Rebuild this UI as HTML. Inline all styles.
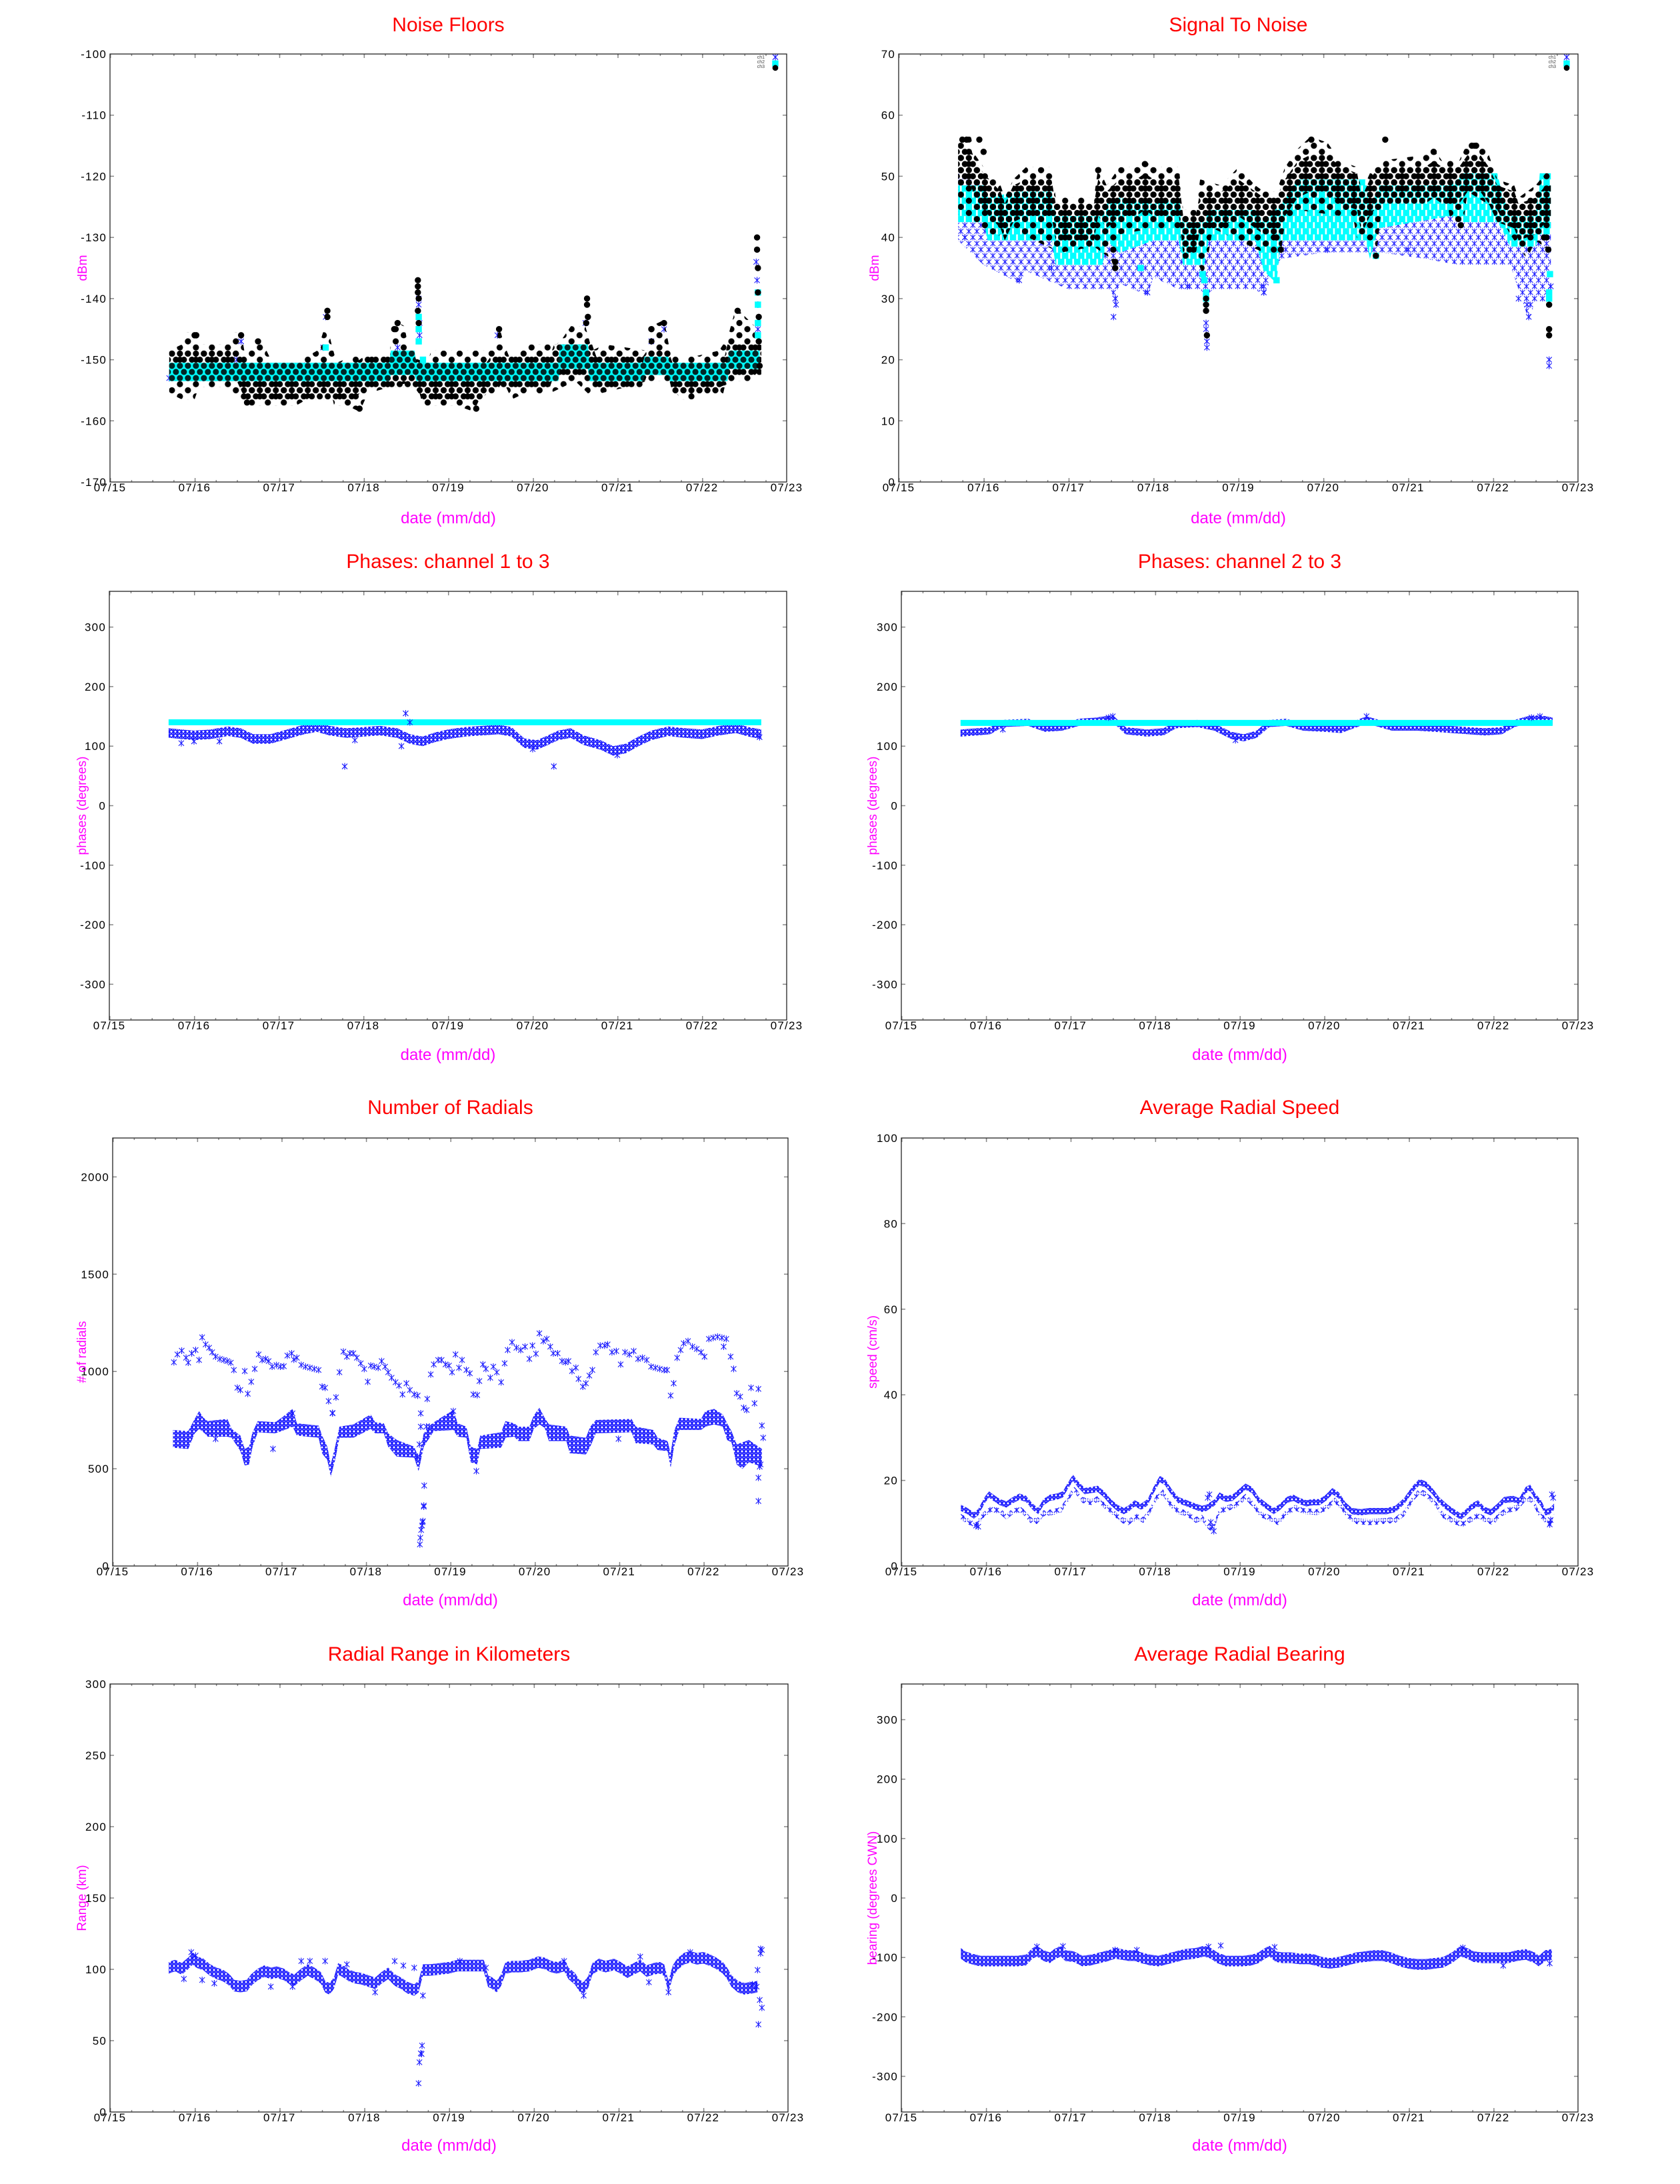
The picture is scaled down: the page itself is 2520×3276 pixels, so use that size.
<!DOCTYPE html>
<html><head><meta charset="utf-8">
<style>
html,body{margin:0;padding:0;background:#fff;overflow:hidden}
svg{display:block}
text{font-family:"Liberation Sans",Arial,sans-serif}
.ti{font-size:30px;fill:#ff0000;text-anchor:middle}
.xl{font-size:24px;fill:#ff00ff;text-anchor:middle}
.yl{font-size:19px;fill:#ff00ff;text-anchor:middle}
.tk{font-size:17px;fill:#000;letter-spacing:1.2px}
.tx{text-anchor:middle}
.ty{text-anchor:end}
.fr{fill:none;stroke:#222;stroke-width:1.3}
.yt{stroke:#888;stroke-width:1.5;fill:none}
.lg{font-size:7px;fill:#444;text-anchor:end}
.a1{fill:none;stroke:none;marker-start:url(#mA1);marker-mid:url(#mA1);marker-end:url(#mA1)}
.c1{fill:none;stroke:none;marker-start:url(#mC1);marker-mid:url(#mC1);marker-end:url(#mC1)}
.s1{fill:none;stroke:none;marker-start:url(#mS1);marker-mid:url(#mS1);marker-end:url(#mS1)}
.a3{fill:none;stroke:none;marker-start:url(#mA3);marker-mid:url(#mA3);marker-end:url(#mA3)}
.az{fill:none;stroke:none;marker-start:url(#mAz);marker-mid:url(#mAz);marker-end:url(#mAz)}
</style></head>
<body>
<svg xmlns="http://www.w3.org/2000/svg" width="2520" height="3276" viewBox="0 0 2520 3276">
<rect width="2520" height="3276" fill="#fff"/>
<defs>
<marker id="mA1" viewBox="-6 -6 12 12" preserveAspectRatio="none" markerWidth="0.094488" markerHeight="1.3084" refX="0" refY="0" markerUnits="userSpaceOnUse" overflow="visible" orient="0"><path d="M-4,-4L4,4M-4,4L4,-4M0,-5V5" stroke="#1a1aff" stroke-width="1.1" fill="none"/></marker>
<marker id="mC1" viewBox="-6 -6 12 12" preserveAspectRatio="none" markerWidth="0.094488" markerHeight="1.3084" refX="0" refY="0" markerUnits="userSpaceOnUse" overflow="visible" orient="0"><circle r="4.7" fill="#000"/></marker>
<marker id="mS1" viewBox="-6 -6 12 12" preserveAspectRatio="none" markerWidth="0.094488" markerHeight="1.3084" refX="0" refY="0" markerUnits="userSpaceOnUse" overflow="visible" orient="0"><rect x="-4.7" y="-4.7" width="9.4" height="9.4" fill="#00ffff"/></marker>
<marker id="mA3" viewBox="-6 -6 12 12" preserveAspectRatio="none" markerWidth="0.094488" markerHeight="13.437" refX="0" refY="0" markerUnits="userSpaceOnUse" overflow="visible" orient="0"><path d="M-4,-4L4,4M-4,4L4,-4M0,-5V5" stroke="#1a1aff" stroke-width="1.1" fill="none"/></marker>
<marker id="mAz" viewBox="-6 -6 12 12" preserveAspectRatio="none" markerWidth="18.408" markerHeight="36" refX="0" refY="0" markerUnits="userSpaceOnUse" overflow="visible" orient="0"><path d="M-4,-4L4,4M-4,4L4,-4M0,-5V5" stroke="#1a1aff" stroke-width="1.1" fill="none"/></marker>

<pattern id="pBk" patternUnits="userSpaceOnUse" x="0" y="0.5" width="0.094488" height="2" viewBox="0 0 12 18.343" preserveAspectRatio="none"><circle cx="6" cy="4.586" r="4.6"/><circle cx="0" cy="13.757" r="4.6"/><circle cx="12" cy="13.757" r="4.6"/></pattern>
<pattern id="pBs" patternUnits="userSpaceOnUse" x="0" y="0.5" width="0.188976" height="2" viewBox="0 0 24 18.343" preserveAspectRatio="none"><circle cx="6" cy="4.586" r="4.6"/><circle cx="18" cy="13.757" r="4.6"/></pattern>
<pattern id="pCy" patternUnits="userSpaceOnUse" x="0" y="0.5" width="0.094488" height="2" viewBox="0 0 12 18.343" preserveAspectRatio="none"><g fill="#00ffff"><rect x="1.3" y="-0.014" width="9.4" height="9.2"/><rect x="-4.7" y="9.157" width="9.4" height="9.2"/><rect x="7.3" y="9.157" width="9.4" height="9.2"/></g></pattern>
<pattern id="pAs1" patternUnits="userSpaceOnUse" x="0" y="0.5" width="0.094488" height="2" viewBox="0 0 12 18.343" preserveAspectRatio="none"><path d="M2.3,0.9L9.7,8.3M2.3,8.3L9.7,0.9M6,0.2V9M-3.7,10.1L3.7,17.5M-3.7,17.5L3.7,10.1M0,9.4V18.2M8.3,10.1L15.7,17.5M8.3,17.5L15.7,10.1M12,9.4V18.2" stroke="#1a1aff" stroke-width="1.1" fill="none"/></pattern>
<pattern id="pAd3" patternUnits="userSpaceOnUse" x="0" y="0" width="0.047244" height="6.7185" viewBox="0 0 6 6" preserveAspectRatio="none"><path d="M0,0L6,6M0,6L6,0M3,0V6" stroke="#1a1aff" stroke-width="1.6" fill="none"/></pattern>
<pattern id="pAdz" patternUnits="userSpaceOnUse" x="0" y="0" width="9.204" height="18" viewBox="0 0 6 6" preserveAspectRatio="none"><path d="M0,0L6,6M0,6L6,0M3,0V6" stroke="#1a1aff" stroke-width="1.6" fill="none"/></pattern>
<pattern id="pAsz" patternUnits="userSpaceOnUse" x="0" y="0" width="15.34" height="30" viewBox="0 0 10 10" preserveAspectRatio="none"><path d="M1,1L9,9M1,9L9,1M5,0.5V9.5" stroke="#1a1aff" stroke-width="1.25" fill="none"/></pattern>
<pattern id="k32" patternUnits="objectBoundingBox" x="0" y="0" width="0.03125" height="1" viewBox="0 0 32 1" preserveAspectRatio="none"><rect width="1.5" height="1" fill="#888"/></pattern>
<pattern id="k8" patternUnits="objectBoundingBox" x="0" y="0" width="0.125" height="1" viewBox="0 0 127 1" preserveAspectRatio="none"><rect width="1.5" height="1" fill="#888"/></pattern>
</defs>

<!-- ================= P1 Noise Floors ================= -->
<text class="ti" x="672.5" y="47">Noise Floors</text>
<g transform="matrix(126.875 0 0 -9.1714 -1738.125 -836.14)">
<polyline class="a1" points="18.65,-140 18.65,-141 18.66,-144 18.66,-146 18.40,-148 17.52,-148 17.55,-143 19.58,-146 20.62,-144 22.64,-134 22.65,-137 22.66,-141 22.66,-145 21.55,-145 21.40,-147 16.55,-147 16.50,-150 15.70,-153 16.10,-153 17.30,-151 18.45,-150"/>
<polygon fill="url(#pBs)" points="15.70,-148.5 15.85,-147.5 15.90,-145.5 16.03,-145.5 16.08,-147.5 16.40,-147.5 16.45,-145.5 16.55,-145.5 16.60,-149.5 16.75,-146.5 16.85,-148.5 16.92,-150.5 17.20,-150.5 17.45,-148.5 17.52,-145.5 17.57,-144.5 17.62,-147.5 17.68,-150.5 17.85,-149.5 18.30,-149.5 18.36,-143.5 18.48,-144.5 18.55,-149.5 18.75,-150.5 18.80,-148.5 19.55,-148.5 19.60,-144.5 19.66,-147.5 19.72,-149.5 19.92,-147.5 20.28,-147.5 20.35,-146.5 20.45,-144.5 20.62,-144.5 20.70,-148.5 20.85,-147.5 21.35,-148.5 21.40,-144.5 21.55,-143.5 21.62,-148.5 21.70,-149.5 21.90,-149.5 22.20,-148.5 22.30,-146.5 22.40,-141.5 22.55,-143.5 22.62,-144.5 22.70,-146.5 22.70,-151.5 22.55,-153.5 22.40,-153.5 22.20,-154.5 21.90,-156.5 21.75,-156.5 21.60,-153.5 21.35,-153.5 21.10,-154.5 20.80,-155.5 20.65,-155.5 20.50,-153.5 20.20,-155.5 19.90,-155.5 19.75,-156.5 19.65,-153.5 19.55,-155.5 19.40,-155.5 19.30,-158.5 19.10,-157.5 18.70,-157.5 18.62,-153.5 18.30,-154.5 18.05,-155.5 17.95,-158.5 17.80,-157.5 17.65,-157.5 17.60,-154.5 17.45,-155.5 17.20,-157.5 16.60,-157.5 16.40,-154.5 16.05,-154.5 16.00,-156.5 15.85,-156.5 15.70,-155.5"/>
<polygon fill="url(#pBk)" points="15.70,-148.5 16.50,-148.5 16.60,-150.5 17.90,-150.5 18.00,-149.5 18.60,-149.5 18.70,-151.5 19.40,-151.5 19.50,-149.5 20.20,-149.5 20.25,-147.5 20.70,-147.5 20.75,-149.5 21.30,-149.5 21.35,-148.5 21.60,-148.5 21.65,-150.5 22.25,-150.5 22.30,-147.5 22.70,-147.5 22.70,-152.5 22.30,-152.5 22.25,-155.5 21.65,-155.5 21.60,-152.5 21.35,-152.5 21.30,-154.5 20.75,-154.5 20.70,-152.5 20.25,-152.5 20.20,-154.5 19.50,-154.5 19.40,-156.5 18.70,-156.5 18.60,-154.5 18.00,-154.5 17.90,-156.5 16.60,-156.5 16.50,-153.5 15.70,-153.5"/>
<polygon fill="#00ffff" points="15.70,-150.5 18.30,-150.5 18.32,-148.5 18.60,-148.5 18.62,-150.5 20.30,-150.5 20.32,-147.5 20.65,-147.5 20.67,-150.5 21.30,-150.5 21.32,-149.5 21.60,-149.5 21.62,-150.5 22.30,-150.5 22.32,-148.5 22.68,-148.5 22.68,-151.5 22.32,-151.5 22.30,-153.5 21.62,-153.5 21.60,-152.5 21.32,-152.5 21.30,-153.5 20.67,-153.5 20.65,-151.5 20.32,-151.5 20.30,-153.5 18.62,-153.5 18.60,-152.5 18.32,-152.5 18.30,-153.5 15.70,-153.5"/>
<polyline class="s1" points="18.65,-143 18.65,-145 18.65,-147 22.66,-139 22.66,-141 22.66,-144 22.66,-146 17.55,-148 20.60,-148 18.70,-150"/>
<polygon fill="url(#pBk)" opacity="0.85" points="15.70,-150.5 18.30,-150.5 18.32,-148.5 18.60,-148.5 18.62,-150.5 20.30,-150.5 20.32,-147.5 20.65,-147.5 20.67,-150.5 21.30,-150.5 21.32,-149.5 21.60,-149.5 21.62,-150.5 22.30,-150.5 22.32,-148.5 22.68,-148.5 22.68,-151.5 22.32,-151.5 22.30,-153.5 21.62,-153.5 21.60,-152.5 21.32,-152.5 21.30,-153.5 20.67,-153.5 20.65,-151.5 20.32,-151.5 20.30,-153.5 18.62,-153.5 18.60,-152.5 18.32,-152.5 18.30,-153.5 15.70,-153.5"/>
<polyline class="c1" points="17.57,-142 17.57,-143 18.64,-137 18.64,-138 18.64,-139 18.65,-140 18.64,-142 18.65,-144 20.64,-140 20.64,-141 20.65,-143 20.63,-144 22.65,-130 22.65,-132 22.66,-135 22.66,-139 22.67,-143 22.67,-147 22.42,-142 19.60,-145 21.40,-145 16.00,-146 16.02,-146 16.55,-146 18.40,-144 18.36,-145 17.95,-158 19.33,-158 16.75,-147 16.62,-157 21.55,-144 22.68,-151"/>
</g>
<text class="lg" x="1147" y="88">ch1</text><text class="lg" x="1147" y="95">ch2</text><text class="lg" x="1147" y="102">ch3</text>
<path d="M1159,81.7L1167,89.7M1159,89.7L1167,81.7M1163,80.7V90.7" stroke="#1a1aff" stroke-width="1.1" fill="none"/>
<rect x="1158.3" y="90.6" width="9.4" height="9.4" fill="#00ffff"/>
<circle cx="1163" cy="101.8" r="4.4" fill="#000"/>
<rect x="165" y="81" width="1015" height="3" fill="url(#k32)"/><rect x="165" y="81" width="1015" height="6" fill="url(#k8)"/>
<rect x="165" y="720" width="1015" height="3" fill="url(#k32)"/><rect x="165" y="717" width="1015" height="6" fill="url(#k8)"/>
<path class="yt" d="M165,172.7h6M1180,172.7h-6M165,264.4h6M1180,264.4h-6M165,356.1h6M1180,356.1h-6M165,447.9h6M1180,447.9h-6M165,539.6h6M1180,539.6h-6M165,631.3h6M1180,631.3h-6"/>
<rect class="fr" x="165" y="81" width="1015" height="642"/>
<g class="tk ty"><text x="160" y="87">-100</text><text x="160" y="178.7">-110</text><text x="160" y="270.4">-120</text><text x="160" y="362.1">-130</text><text x="160" y="453.9">-140</text><text x="160" y="545.6">-150</text><text x="160" y="637.3">-160</text><text x="160" y="729">-170</text></g>
<g class="tk tx"><text x="165" y="737">07/15</text><text x="291.9" y="737">07/16</text><text x="418.8" y="737">07/17</text><text x="545.6" y="737">07/18</text><text x="672.5" y="737">07/19</text><text x="799.4" y="737">07/20</text><text x="926.3" y="737">07/21</text><text x="1053.1" y="737">07/22</text><text x="1180" y="737">07/23</text></g>
<text class="xl" x="672.5" y="785">date (mm/dd)</text>
<text class="yl" transform="translate(130,402) rotate(-90)">dBm</text>

<!-- ================= P2 Signal To Noise ================= -->
<text class="ti" x="1857.5" y="47">Signal To Noise</text>
<g transform="matrix(127.375 0 0 -9.1714 -562.625 723)">
<polygon fill="url(#pAs1)" points="15.70,50.5 16.0,48.5 16.05,45.5 16.5,44.5 17.0,42.5 17.6,42.5 18.0,41.5 18.3,41.5 18.55,39.5 18.65,40.5 19.2,39.5 19.5,45.5 20.0,48.5 20.5,44.5 20.7,45.5 21.2,44.5 21.6,44.5 22.2,42.5 22.5,40.5 22.68,42.5 22.68,29.5 22.5,29.5 22.42,26.5 22.3,31.5 22.2,35.5 21.6,35.5 21.2,36.5 20.7,37.5 20.0,37.5 19.5,36.5 19.3,30.5 19.2,31.5 18.7,31.5 18.62,30.5 18.55,31.5 18.3,31.5 18.0,33.5 17.93,30.5 17.6,32.5 17.55,28.5 17.5,31.5 17.0,31.5 16.5,34.5 16.42,32.5 16.0,35.5 15.7,39.5"/>
<polyline class="a1" points="18.62,26 18.62,25 18.63,23 18.63,22 17.53,27 17.55,30 17.56,29 17.93,31 22.42,27 22.4,29 22.66,20 22.66,19 22.68,32 16.42,33 19.3,31 19.3,32 15.78,40 20.05,38 21.0,38 16.8,35 18.4,32 22.3,30"/>
<polygon fill="url(#pCy)" points="15.70,48.5 16.0,48.5 16.05,46.5 16.4,47.5 16.8,47.5 16.85,43.5 17.4,43.5 17.45,45.5 17.6,46.5 18.0,45.5 18.3,46.5 18.35,42.5 18.6,42.5 18.65,44.5 19.2,44.5 19.3,42.5 19.5,45.5 19.7,49.5 20.5,49.5 20.55,44.5 20.65,48.5 21.5,48.5 21.65,50.5 22.05,50.5 22.1,47.5 22.2,43.5 22.5,43.5 22.55,50.5 22.68,50.5 22.68,40.5 22.55,40.5 22.5,38.5 22.2,38.5 22.1,41.5 22.05,42.5 21.65,42.5 21.5,43.5 20.65,41.5 20.55,36.5 20.5,39.5 19.7,39.5 19.5,39.5 19.45,32.5 19.3,34.5 19.2,39.5 18.65,39.5 18.6,35.5 18.35,35.5 18.3,39.5 18.0,39.5 17.6,37.5 17.45,39.5 17.4,35.5 16.85,35.5 16.8,39.5 16.4,39.5 16.05,39.5 16.0,42.5 15.7,42.5"/>
<polyline class="s1" points="18.62,31 18.62,30 18.6,33 18.58,34 19.45,33 22.67,34 22.66,31 22.66,30 17.85,35 20.62,37"/>
<polygon fill="url(#pBs)" points="15.70,56.5 15.85,56.5 15.9,53.5 16.0,51.5 16.2,48.5 16.25,46.5 16.35,49.5 16.5,51.5 16.8,51.5 16.85,46.5 17.3,46.5 17.35,51.5 17.45,48.5 17.6,51.5 17.8,51.5 17.9,52.5 18.0,51.5 18.3,51.5 18.35,44.5 18.5,44.5 18.55,49.5 18.8,48.5 19.0,51.5 19.2,48.5 19.3,47.5 19.45,47.5 19.55,51.5 19.7,54.5 19.85,56.5 20.05,55.5 20.2,52.5 20.4,51.5 20.45,47.5 20.55,50.5 20.65,52.5 21.2,53.5 21.3,54.5 21.4,52.5 21.6,52.5 21.7,55.5 21.85,55.5 21.95,53.5 22.05,49.5 22.25,48.5 22.3,46.5 22.5,48.5 22.62,50.5 22.68,50.5 22.68,37.5 22.6,38.5 22.5,39.5 22.4,36.5 22.3,38.5 22.2,40.5 22.05,44.5 21.7,47.5 21.65,42.5 21.5,42.5 21.45,46.5 20.7,46.5 20.62,36.5 20.55,39.5 20.4,39.5 20.35,43.5 20.2,43.5 19.7,44.5 19.55,42.5 19.5,37.5 19.3,37.5 19.0,39.5 18.7,41.5 18.6,33.5 18.5,36.5 18.35,36.5 18.3,41.5 18.0,41.5 17.6,40.5 17.55,34.5 17.5,36.5 17.3,38.5 16.9,37.5 16.6,39.5 16.3,41.5 16.1,39.5 16.0,41.5 15.7,44.5"/>
<polygon fill="url(#pBk)" points="15.70,54.5 15.85,54.5 15.9,52.5 16.0,50.5 16.2,47.5 16.25,45.5 16.35,48.5 16.5,49.5 16.8,49.5 16.85,45.5 17.3,45.5 17.35,49.5 17.45,47.5 17.6,49.5 17.8,49.5 17.9,50.5 18.0,49.5 18.3,49.5 18.35,43.5 18.5,43.5 18.55,47.5 18.8,47.5 19.0,49.5 19.2,47.5 19.3,46.5 19.45,46.5 19.55,49.5 19.7,52.5 19.85,53.5 20.05,53.5 20.2,51.5 20.4,50.5 20.45,46.5 20.55,49.5 20.65,51.5 21.2,51.5 21.3,52.5 21.4,51.5 21.6,51.5 21.7,53.5 21.85,53.5 21.95,51.5 22.05,48.5 22.25,47.5 22.3,45.5 22.5,46.5 22.62,48.5 22.68,48.5 22.68,42.5 22.62,42.5 22.5,40.5 22.3,39.5 22.25,41.5 22.05,42.5 21.95,45.5 21.85,47.5 21.7,47.5 21.6,45.5 21.4,45.5 21.3,46.5 21.2,45.5 20.65,45.5 20.55,43.5 20.45,40.5 20.4,44.5 20.2,45.5 20.05,47.5 19.85,47.5 19.7,46.5 19.55,43.5 19.45,40.5 19.3,40.5 19.2,41.5 19.0,43.5 18.8,41.5 18.55,41.5 18.5,37.5 18.35,37.5 18.3,43.5 18.0,43.5 17.9,44.5 17.8,43.5 17.6,43.5 17.45,41.5 17.35,43.5 17.3,39.5 16.85,39.5 16.8,43.5 16.5,43.5 16.35,42.5 16.25,39.5 16.2,41.5 16.0,44.5 15.9,46.5 15.85,48.5 15.70,48.5"/>
<polyline class="c1" points="18.62,30 18.62,29 18.62,28 18.63,24 17.55,35 17.55,36 22.66,29 22.66,25 22.66,24 22.65,38 22.6,40 20.62,37 21.62,42 19.5,38 19.45,40 15.75,56 15.8,56 15.95,56 19.86,56 20.73,56 21.75,55 21.8,55 16.0,54 21.3,54 17.35,51 17.9,52"/>
</g>
<text class="lg" x="2334" y="88">ch1</text><text class="lg" x="2334" y="95">ch2</text><text class="lg" x="2334" y="102">ch3</text>
<path d="M2346,81.7L2354,89.7M2346,89.7L2354,81.7M2350,80.7V90.7" stroke="#1a1aff" stroke-width="1.1" fill="none"/>
<rect x="2345.3" y="90.6" width="9.4" height="9.4" fill="#00ffff"/>
<circle cx="2350" cy="101.8" r="4.4" fill="#000"/>
<rect x="1348" y="81" width="1019" height="3" fill="url(#k32)"/><rect x="1348" y="81" width="1019" height="6" fill="url(#k8)"/>
<rect x="1348" y="720" width="1019" height="3" fill="url(#k32)"/><rect x="1348" y="717" width="1019" height="6" fill="url(#k8)"/>
<path class="yt" d="M1348,172.7h6M2367,172.7h-6M1348,264.4h6M2367,264.4h-6M1348,356.1h6M2367,356.1h-6M1348,447.9h6M2367,447.9h-6M1348,539.6h6M2367,539.6h-6M1348,631.3h6M2367,631.3h-6"/>
<rect class="fr" x="1348" y="81" width="1019" height="642"/>
<g class="tk ty"><text x="1343" y="87">70</text><text x="1343" y="178.7">60</text><text x="1343" y="270.4">50</text><text x="1343" y="362.1">40</text><text x="1343" y="453.9">30</text><text x="1343" y="545.6">20</text><text x="1343" y="637.3">10</text><text x="1343" y="729">0</text></g>
<g class="tk tx"><text x="1348" y="737">07/15</text><text x="1475.4" y="737">07/16</text><text x="1602.8" y="737">07/17</text><text x="1730.1" y="737">07/18</text><text x="1857.5" y="737">07/19</text><text x="1984.9" y="737">07/20</text><text x="2112.3" y="737">07/21</text><text x="2239.6" y="737">07/22</text><text x="2367" y="737">07/23</text></g>
<text class="xl" x="1857.5" y="785">date (mm/dd)</text>
<text class="yl" transform="translate(1318,402) rotate(-90)">dBm</text>

<!-- ================= P3 Phases 1 to 3 ================= -->
<text class="ti" x="672" y="852">Phases: channel 1 to 3</text>
<g transform="matrix(127 0 0 -0.89306 -1741 1208.5)">
<polygon fill="url(#pAd3)" points="15.7,130 16.0,126 16.2,128 16.4,133 16.55,130 16.7,120 16.9,120 17.1,128 17.3,136 17.45,140 17.6,134 17.8,130 18.0,132 18.2,134 18.4,130 18.55,120 18.7,116 18.85,123 19.0,128 19.2,132 19.4,134 19.6,136 19.75,132 19.9,113 20.05,110 20.15,116 20.3,126 20.45,130 20.6,118 20.8,110 20.95,100 21.1,104 21.25,116 21.4,126 21.6,133 21.8,130 22.0,128 22.2,134 22.4,138 22.55,132 22.7,128 22.7,112 22.55,116 22.4,122 22.2,118 22.0,112 21.8,114 21.6,117 21.4,110 21.25,100 21.1,88 20.95,84 20.8,94 20.6,102 20.45,114 20.3,110 20.15,100 20.05,94 19.9,97 19.75,116 19.6,120 19.4,118 19.2,116 19.0,112 18.85,107 18.7,100 18.55,104 18.4,114 18.2,118 18.0,116 17.8,114 17.6,118 17.45,124 17.3,120 17.1,112 16.9,104 16.7,104 16.55,114 16.4,117 16.2,112 16.0,110 15.7,114"/>
<polygon fill="#00ffff" points="15.7,135 22.7,135 22.7,145 15.7,145"/>
<polyline class="a3" points="17.78,66 18.5,155 20.25,66 15.85,105 16.0,108 18.55,140 22.68,115 20.0,95 16.3,108 18.45,100 17.9,110 21.0,85"/>
</g>
<rect x="164" y="887" width="1016" height="3" fill="url(#k32)"/><rect x="164" y="887" width="1016" height="6" fill="url(#k8)"/>
<rect x="164" y="1527" width="1016" height="3" fill="url(#k32)"/><rect x="164" y="1524" width="1016" height="6" fill="url(#k8)"/>
<path class="yt" d="M164,940.6h6M1180,940.6h-6M164,1029.9h6M1180,1029.9h-6M164,1119.2h6M1180,1119.2h-6M164,1208.5h6M1180,1208.5h-6M164,1297.8h6M1180,1297.8h-6M164,1387.1h6M1180,1387.1h-6M164,1476.4h6M1180,1476.4h-6"/>
<rect class="fr" x="164" y="887" width="1016" height="643"/>
<g class="tk ty"><text x="159" y="946.6">300</text><text x="159" y="1035.9">200</text><text x="159" y="1125.2">100</text><text x="159" y="1214.5">0</text><text x="159" y="1303.8">-100</text><text x="159" y="1393.1">-200</text><text x="159" y="1482.4">-300</text></g>
<g class="tk tx"><text x="164" y="1544">07/15</text><text x="291" y="1544">07/16</text><text x="418" y="1544">07/17</text><text x="545" y="1544">07/18</text><text x="672" y="1544">07/19</text><text x="799" y="1544">07/20</text><text x="926" y="1544">07/21</text><text x="1053" y="1544">07/22</text><text x="1180" y="1544">07/23</text></g>
<text class="xl" x="672" y="1590">date (mm/dd)</text>
<text class="yl" transform="translate(129,1208.5) rotate(-90)">phases (degrees)</text>

<!-- ================= P4 Phases 2 to 3 ================= -->
<text class="ti" x="1859.5" y="852">Phases: channel 2 to 3</text>
<g transform="matrix(126.875 0 0 -0.89306 -551.125 1208.5)">
<polygon fill="url(#pAd3)" points="15.7,128 15.9,130 16.05,132 16.2,144 16.5,146 16.7,136 16.9,138 17.1,146 17.3,148 17.5,152 17.65,132 17.9,128 18.1,130 18.25,142 18.5,144 18.7,138 18.9,124 19.05,120 19.2,126 19.35,144 19.55,146 19.75,138 20.0,136 20.2,134 20.35,142 20.5,150 20.65,144 20.8,138 21.1,138 21.3,136 21.5,134 21.7,132 21.9,130 22.1,132 22.25,144 22.4,150 22.55,152 22.7,148 22.7,136 22.55,140 22.4,138 22.25,132 22.1,120 21.9,118 21.7,120 21.5,122 21.3,124 21.1,126 20.8,126 20.65,132 20.5,138 20.35,130 20.2,122 20.0,124 19.75,126 19.55,134 19.35,132 19.2,114 19.05,108 18.9,112 18.7,126 18.5,132 18.25,130 18.1,118 17.9,116 17.65,120 17.5,140 17.3,136 17.1,134 16.9,126 16.7,124 16.5,134 16.2,132 16.05,120 15.9,118 15.7,116"/>
<polygon fill="#00ffff" points="15.7,134 22.7,134 22.7,144 15.7,144"/>
<polyline class="a3" points="17.5,150 22.55,150 18.95,110 16.2,128 20.5,150 22.45,148 17.45,148"/>
</g>
<rect x="1352" y="887" width="1015" height="3" fill="url(#k32)"/><rect x="1352" y="887" width="1015" height="6" fill="url(#k8)"/>
<rect x="1352" y="1527" width="1015" height="3" fill="url(#k32)"/><rect x="1352" y="1524" width="1015" height="6" fill="url(#k8)"/>
<path class="yt" d="M1352,940.6h6M2367,940.6h-6M1352,1029.9h6M2367,1029.9h-6M1352,1119.2h6M2367,1119.2h-6M1352,1208.5h6M2367,1208.5h-6M1352,1297.8h6M2367,1297.8h-6M1352,1387.1h6M2367,1387.1h-6M1352,1476.4h6M2367,1476.4h-6"/>
<rect class="fr" x="1352" y="887" width="1015" height="643"/>
<g class="tk ty"><text x="1347" y="946.6">300</text><text x="1347" y="1035.9">200</text><text x="1347" y="1125.2">100</text><text x="1347" y="1214.5">0</text><text x="1347" y="1303.8">-100</text><text x="1347" y="1393.1">-200</text><text x="1347" y="1482.4">-300</text></g>
<g class="tk tx"><text x="1352" y="1544">07/15</text><text x="1478.9" y="1544">07/16</text><text x="1605.8" y="1544">07/17</text><text x="1732.6" y="1544">07/18</text><text x="1859.5" y="1544">07/19</text><text x="1986.4" y="1544">07/20</text><text x="2113.3" y="1544">07/21</text><text x="2240.1" y="1544">07/22</text><text x="2367" y="1544">07/23</text></g>
<text class="xl" x="1859.5" y="1590">date (mm/dd)</text>
<text class="yl" transform="translate(1315,1208.5) rotate(-90)">phases (degrees)</text>

<!-- ================= P5 Number of Radials ================= -->
<text class="ti" x="675.5" y="1671">Number of Radials</text>
<g transform="matrix(0.6519 0 0 0.33333 165 1940)">
<polygon fill="url(#pAdz)" points="145,615 180,620 195,565 205,530 215,560 225,575 270,565 280,610 300,640 310,700 320,690 328,625 340,575 380,580 395,560 420,520 430,585 480,595 488,640 500,690 508,770 518,690 528,600 560,590 600,545 610,580 630,585 640,630 660,660 700,690 710,740 722,630 745,580 790,525 800,585 820,600 830,690 845,700 852,640 900,625 910,575 930,585 940,600 965,600 975,550 988,515 1000,560 1010,590 1050,600 1058,640 1095,650 1105,600 1118,570 1200,565 1210,600 1250,615 1260,650 1283,665 1290,720 1298,620 1310,560 1360,565 1370,530 1390,520 1410,545 1420,585 1430,620 1442,680 1470,660 1500,700 1500,780 1470,760 1455,790 1442,770 1430,670 1420,660 1410,600 1390,590 1370,600 1360,615 1310,615 1298,690 1290,785 1283,710 1260,705 1250,680 1210,675 1200,625 1118,630 1105,690 1095,725 1058,720 1050,665 1010,665 1000,605 988,590 975,610 965,665 940,665 930,645 910,650 900,695 852,700 845,770 830,760 820,650 800,645 790,615 745,620 722,690 710,800 700,740 660,735 640,690 630,630 610,630 600,610 560,650 528,650 518,750 508,825 500,750 488,720 480,650 430,640 420,600 395,620 380,630 340,625 328,690 320,770 310,775 300,710 280,650 270,645 225,645 215,625 205,610 195,630 180,700 145,695"/>
<polyline class="az" points="147,310 155,275 165,258 175,290 180,312 188,270 197,255 205,300 212,198 220,230 228,245 235,265 243,285 253,295 262,300 270,305 278,312 285,345 293,425 300,435 310,350 317,452 325,398 333,340 342,275 350,300 358,295 365,305 373,330 383,323 392,330 400,328 408,280 418,270 423,298 430,290 440,322 450,330 460,335 470,340 480,345 488,420 495,425 503,485 512,538 520,468 528,355 537,262 545,285 552,270 560,270 568,290 577,315 585,340 593,398 600,325 608,330 617,335 625,305 633,330 640,355 648,380 657,400 665,415 673,455 682,405 690,435 700,455 708,460 730,475 738,365 745,320 755,300 763,300 772,320 780,325 787,355 795,275 803,335 810,300 820,345 828,360 836,455 845,458 850,395 858,320 865,340 875,380 882,330 890,355 900,400 908,315 915,255 925,220 935,245 945,255 955,240 965,295 972,235 980,272 988,180 997,215 1005,205 1013,240 1020,270 1030,270 1040,305 1048,310 1055,305 1063,350 1072,335 1078,385 1088,420 1095,405 1103,370 1110,345 1118,265 1128,235 1138,235 1145,230 1155,265 1165,260 1175,320 1185,265 1195,275 1205,260 1215,295 1225,290 1235,300 1245,330 1255,335 1265,340 1275,345 1282,345 1290,460 1297,405 1305,290 1313,255 1320,225 1330,215 1340,240 1350,250 1360,265 1368,285 1378,205 1388,200 1398,195 1408,200 1418,205 1412,240 1428,285 1435,340 1442,450 1450,465 1458,515 1465,525 1475,425 1483,495 1492,430"/>
<polyline class="az" points="715,540 728,600 712,680 735,600 708,735 723,865 722,960 720,1025 718,1045 716,1065 714,1100 713,1130 843,800 1170,655 1492,830 1492,935 1500,595 1503,650 1497,770 1495,780 375,700 243,655 420,540 512,540 790,530 715,600 722,955 719,1030"/>
</g>
<rect x="169" y="1707" width="1013" height="3" fill="url(#k32)"/><rect x="169" y="1707" width="1013" height="6" fill="url(#k8)"/>
<rect x="169" y="2346" width="1013" height="3" fill="url(#k32)"/><rect x="169" y="2343" width="1013" height="6" fill="url(#k8)"/>
<path class="yt" d="M169,2203.1h6M1182,2203.1h-6M169,2057.2h6M1182,2057.2h-6M169,1911.3h6M1182,1911.3h-6M169,1765.4h6M1182,1765.4h-6"/>
<rect class="fr" x="169" y="1707" width="1013" height="642"/>
<g class="tk ty"><text x="164" y="2355">0</text><text x="164" y="2209.1">500</text><text x="164" y="2063.2">1000</text><text x="164" y="1917.3">1500</text><text x="164" y="1771.4">2000</text></g>
<g class="tk tx"><text x="169" y="2363">07/15</text><text x="295.6" y="2363">07/16</text><text x="422.3" y="2363">07/17</text><text x="548.9" y="2363">07/18</text><text x="675.5" y="2363">07/19</text><text x="802.1" y="2363">07/20</text><text x="928.8" y="2363">07/21</text><text x="1055.4" y="2363">07/22</text><text x="1182" y="2363">07/23</text></g>
<text class="xl" x="675.5" y="2408">date (mm/dd)</text>
<text class="yl" transform="translate(129,2028) rotate(-90)"># of radials</text>

<!-- ================= P6 Average Radial Speed ================= -->
<text class="ti" x="1859.5" y="1671">Average Radial Speed</text>
<g transform="matrix(0.6519 0 0 0.33333 1350 2180)">
<polygon fill="url(#pAsz)" points="140,272 160,297 175,312 190,267 210,237 230,247 245,272 260,247 280,242 300,287 315,292 330,257 350,252 370,242 385,197 400,147 420,197 440,207 455,192 470,222 490,252 510,287 525,297 545,272 560,287 575,247 590,187 605,162 620,212 640,247 660,257 680,287 695,277 710,317 720,327 735,247 750,237 775,217 795,182 810,212 830,262 855,282 870,297 890,252 910,232 930,247 960,252 985,227 1000,197 1015,227 1030,267 1050,292 1080,297 1110,292 1140,287 1160,257 1180,192 1195,157 1210,172 1230,207 1250,267 1275,292 1295,307 1310,287 1330,267 1350,287 1365,297 1380,262 1400,242 1420,232 1440,187 1455,197 1470,257 1485,287 1495,307 1505,267 1505,293 1495,333 1485,313 1470,283 1455,223 1440,213 1420,258 1400,268 1380,288 1365,323 1350,313 1330,293 1310,313 1295,333 1275,318 1250,293 1230,233 1210,198 1195,183 1180,218 1160,283 1140,313 1110,318 1080,323 1050,318 1030,293 1015,253 1000,223 985,253 960,278 930,273 910,258 890,278 870,323 855,308 830,288 810,238 795,208 775,243 750,263 735,273 720,353 710,343 695,303 680,313 660,283 640,273 620,238 605,188 590,213 575,273 560,313 545,298 525,323 510,313 490,278 470,248 455,218 440,233 420,223 400,173 385,223 370,268 350,278 330,283 315,318 300,313 280,268 260,273 245,298 230,273 210,263 190,293 175,338 160,323 140,298"/>
<polygon fill="url(#pAdz)" points="140,231 155,246 170,266 180,251 195,196 205,171 215,186 230,206 245,216 260,196 275,181 290,191 305,226 318,246 330,206 345,186 360,181 375,171 385,136 398,96 410,126 425,156 440,151 455,146 470,171 485,206 500,231 515,246 525,236 540,211 555,226 570,206 585,146 598,101 610,116 625,161 640,196 660,211 680,226 695,236 705,231 725,206 735,176 750,191 765,186 780,161 795,136 810,151 825,196 845,226 860,246 875,226 890,196 905,186 920,201 935,211 950,206 965,206 980,186 995,156 1010,176 1025,221 1040,246 1060,251 1080,246 1100,246 1120,246 1140,236 1160,201 1180,146 1195,116 1210,126 1225,156 1240,196 1260,231 1275,251 1290,271 1300,256 1315,226 1330,211 1345,241 1360,251 1375,226 1390,196 1410,191 1425,201 1440,151 1450,141 1460,176 1475,211 1485,251 1495,246 1505,226 1505,254 1495,274 1485,279 1475,239 1460,204 1450,169 1440,179 1425,229 1410,219 1390,224 1375,254 1360,279 1345,269 1330,239 1315,254 1300,284 1290,299 1275,279 1260,259 1240,224 1225,184 1210,154 1195,144 1180,174 1160,229 1140,264 1120,274 1100,274 1080,274 1060,279 1040,274 1025,249 1010,204 995,184 980,214 965,234 950,234 935,239 920,229 905,214 890,224 875,254 860,274 845,254 825,224 810,179 795,164 780,189 765,214 750,219 735,204 725,234 705,259 695,264 680,254 660,239 640,224 625,189 610,144 598,129 585,174 570,234 555,254 540,239 525,264 515,274 500,259 485,234 470,199 455,174 440,179 425,184 410,154 398,124 385,164 375,199 360,209 345,214 330,234 318,274 305,254 290,219 275,209 260,224 245,244 230,234 215,214 205,199 195,224 180,279 170,294 155,274 140,259"/>
<polyline class="az" points="715,310 718,330 722,350 712,185 1500,185 1497,300 1495,320 180,330 175,325 708,200 1503,200"/>
</g>
<rect x="1352" y="1707" width="1015" height="3" fill="url(#k32)"/><rect x="1352" y="1707" width="1015" height="6" fill="url(#k8)"/>
<rect x="1352" y="2346" width="1015" height="3" fill="url(#k32)"/><rect x="1352" y="2343" width="1015" height="6" fill="url(#k8)"/>
<path class="yt" d="M1352,2220.6h6M2367,2220.6h-6M1352,2092.2h6M2367,2092.2h-6M1352,1963.8h6M2367,1963.8h-6M1352,1835.4h6M2367,1835.4h-6"/>
<rect class="fr" x="1352" y="1707" width="1015" height="642"/>
<g class="tk ty"><text x="1347" y="2355">0</text><text x="1347" y="2226.6">20</text><text x="1347" y="2098.2">40</text><text x="1347" y="1969.8">60</text><text x="1347" y="1841.4">80</text><text x="1347" y="1713">100</text></g>
<g class="tk tx"><text x="1352" y="2363">07/15</text><text x="1478.9" y="2363">07/16</text><text x="1605.8" y="2363">07/17</text><text x="1732.6" y="2363">07/18</text><text x="1859.5" y="2363">07/19</text><text x="1986.4" y="2363">07/20</text><text x="2113.3" y="2363">07/21</text><text x="2240.1" y="2363">07/22</text><text x="2367" y="2363">07/23</text></g>
<text class="xl" x="1859.5" y="2408">date (mm/dd)</text>
<text class="yl" transform="translate(1315,2028) rotate(-90)">speed (cm/s)</text>

<!-- ================= P7 Radial Range ================= -->
<text class="ti" x="673.5" y="2491">Radial Range in Kilometers</text>
<g transform="matrix(0.6519 0 0 0.33333 165 2880)">
<polygon fill="url(#pAdz)" points="135,189 150,179 165,194 180,169 190,149 200,164 215,174 230,199 245,214 260,224 275,244 285,269 300,274 315,269 325,244 340,219 355,204 370,214 385,209 400,219 415,239 425,244 440,219 455,199 470,214 485,234 495,274 505,284 515,259 525,194 535,204 550,224 565,234 580,239 595,249 610,259 625,234 640,214 655,244 670,259 685,279 700,289 710,274 720,199 735,199 760,194 780,189 800,179 820,179 840,179 860,179 870,249 880,259 890,274 900,244 910,189 925,184 945,184 965,179 985,164 1000,169 1015,184 1030,189 1045,179 1055,214 1070,239 1080,269 1090,279 1100,254 1110,194 1125,174 1140,184 1160,174 1175,189 1190,209 1205,194 1220,179 1235,204 1250,194 1265,189 1275,199 1285,274 1295,204 1305,174 1320,149 1335,139 1350,149 1365,144 1380,154 1395,169 1410,189 1420,214 1430,249 1445,274 1460,284 1475,279 1490,274 1490,326 1475,331 1460,336 1445,326 1430,301 1420,266 1410,241 1395,221 1380,206 1365,196 1350,201 1335,191 1320,201 1305,226 1295,256 1285,326 1275,251 1265,241 1250,246 1235,256 1220,231 1205,246 1190,261 1175,241 1160,226 1140,236 1125,226 1110,246 1100,306 1090,331 1080,321 1070,291 1055,266 1045,231 1030,241 1015,236 1000,221 985,216 965,231 945,236 925,236 910,241 900,296 890,326 880,311 870,301 860,231 840,231 820,231 800,231 780,241 760,246 735,251 720,251 710,326 700,341 685,331 670,311 655,296 640,266 625,286 610,311 595,301 580,291 565,286 550,276 535,256 525,246 515,311 505,336 495,326 485,286 470,266 455,251 440,271 425,296 415,291 400,271 385,261 370,266 355,256 340,271 325,296 315,321 300,326 285,321 275,296 260,276 245,266 230,251 215,226 200,216 190,201 180,221 165,246 150,231 135,241"/>
<polyline class="az" points="187,145 197,160 440,185 460,185 495,185 545,200 655,185 675,205 805,185 865,215 1045,185 1220,165 1335,145 700,215 720,340 170,265 212,270 240,285 370,300 420,300 610,325 1090,340 1240,280 1285,325 718,565 715,600 717,603 712,640 710,735 1490,225 1497,150 1497,130 1500,395 1492,470 1495,360 1500,135 1488,300 1478,290"/>
</g>
<rect x="165" y="2526" width="1017" height="3" fill="url(#k32)"/><rect x="165" y="2526" width="1017" height="6" fill="url(#k8)"/>
<rect x="165" y="3165" width="1017" height="3" fill="url(#k32)"/><rect x="165" y="3162" width="1017" height="6" fill="url(#k8)"/>
<path class="yt" d="M165,3061h6M1182,3061h-6M165,2954h6M1182,2954h-6M165,2847h6M1182,2847h-6M165,2740h6M1182,2740h-6M165,2633h6M1182,2633h-6"/>
<rect class="fr" x="165" y="2526" width="1017" height="642"/>
<g class="tk ty"><text x="160" y="3174">0</text><text x="160" y="3067">50</text><text x="160" y="2960">100</text><text x="160" y="2853">150</text><text x="160" y="2746">200</text><text x="160" y="2639">250</text><text x="160" y="2532">300</text></g>
<g class="tk tx"><text x="165" y="3182">07/15</text><text x="292.1" y="3182">07/16</text><text x="419.3" y="3182">07/17</text><text x="546.4" y="3182">07/18</text><text x="673.5" y="3182">07/19</text><text x="800.6" y="3182">07/20</text><text x="927.8" y="3182">07/21</text><text x="1054.9" y="3182">07/22</text><text x="1182" y="3182">07/23</text></g>
<text class="xl" x="673.5" y="3226">date (mm/dd)</text>
<text class="yl" transform="translate(129,2847) rotate(-90)">Range (km)</text>

<!-- ================= P8 Average Radial Bearing ================= -->
<text class="ti" x="1859.5" y="2491">Average Radial Bearing</text>
<g transform="matrix(0.6519 0 0 0.33333 1350 2880)">
<polygon fill="url(#pAdz)" points="140,126 150,141 165,151 185,161 210,161 240,161 270,161 290,156 305,126 315,116 330,136 345,146 355,131 370,116 380,136 400,141 420,161 440,156 460,146 480,136 495,126 510,131 525,136 540,136 555,146 575,156 595,161 615,151 635,141 655,131 680,126 700,116 715,126 730,146 750,161 770,161 790,161 810,156 825,146 840,126 850,116 865,141 880,146 900,146 920,151 940,151 955,156 970,166 990,171 1010,166 1030,156 1050,146 1070,141 1090,136 1110,136 1130,146 1150,161 1170,171 1190,176 1210,176 1230,171 1250,166 1270,146 1290,116 1305,126 1320,141 1340,146 1360,146 1380,146 1400,146 1420,136 1440,131 1460,146 1470,161 1485,136 1500,131 1500,179 1485,184 1470,209 1460,194 1440,179 1420,184 1400,194 1380,194 1360,194 1340,194 1320,189 1305,174 1290,164 1270,194 1250,214 1230,219 1210,224 1190,224 1170,219 1150,209 1130,194 1110,184 1090,184 1070,189 1050,194 1030,204 1010,214 990,219 970,214 955,204 940,199 920,199 900,194 880,194 865,189 850,164 840,174 825,194 810,204 790,209 770,209 750,209 730,194 715,174 700,164 680,174 655,179 635,189 615,199 595,209 575,204 555,194 540,184 525,184 510,179 495,174 480,184 460,194 440,204 420,209 400,189 380,184 370,164 355,179 345,194 330,184 315,164 305,174 290,204 270,209 240,209 210,209 185,209 165,199 150,189 140,174"/>
<polyline class="az" points="315,120 375,118 495,135 545,135 710,120 738,115 862,122 1295,125 1388,205 1495,195"/>
</g>
<rect x="1352" y="2526" width="1015" height="3" fill="url(#k32)"/><rect x="1352" y="2526" width="1015" height="6" fill="url(#k8)"/>
<rect x="1352" y="3165" width="1015" height="3" fill="url(#k32)"/><rect x="1352" y="3162" width="1015" height="6" fill="url(#k8)"/>
<path class="yt" d="M1352,2579.5h6M2367,2579.5h-6M1352,2668.7h6M2367,2668.7h-6M1352,2757.8h6M2367,2757.8h-6M1352,2847h6M2367,2847h-6M1352,2936.2h6M2367,2936.2h-6M1352,3025.3h6M2367,3025.3h-6M1352,3114.5h6M2367,3114.5h-6"/>
<rect class="fr" x="1352" y="2526" width="1015" height="642"/>
<g class="tk ty"><text x="1347" y="2585.5">300</text><text x="1347" y="2674.7">200</text><text x="1347" y="2763.8">100</text><text x="1347" y="2853">0</text><text x="1347" y="2942.2">-100</text><text x="1347" y="3031.3">-200</text><text x="1347" y="3120.5">-300</text></g>
<g class="tk tx"><text x="1352" y="3182">07/15</text><text x="1478.9" y="3182">07/16</text><text x="1605.8" y="3182">07/17</text><text x="1732.6" y="3182">07/18</text><text x="1859.5" y="3182">07/19</text><text x="1986.4" y="3182">07/20</text><text x="2113.3" y="3182">07/21</text><text x="2240.1" y="3182">07/22</text><text x="2367" y="3182">07/23</text></g>
<text class="xl" x="1859.5" y="3226">date (mm/dd)</text>
<text class="yl" transform="translate(1315,2847) rotate(-90)">bearing (degrees CWN)</text>
</svg>
</body></html>
